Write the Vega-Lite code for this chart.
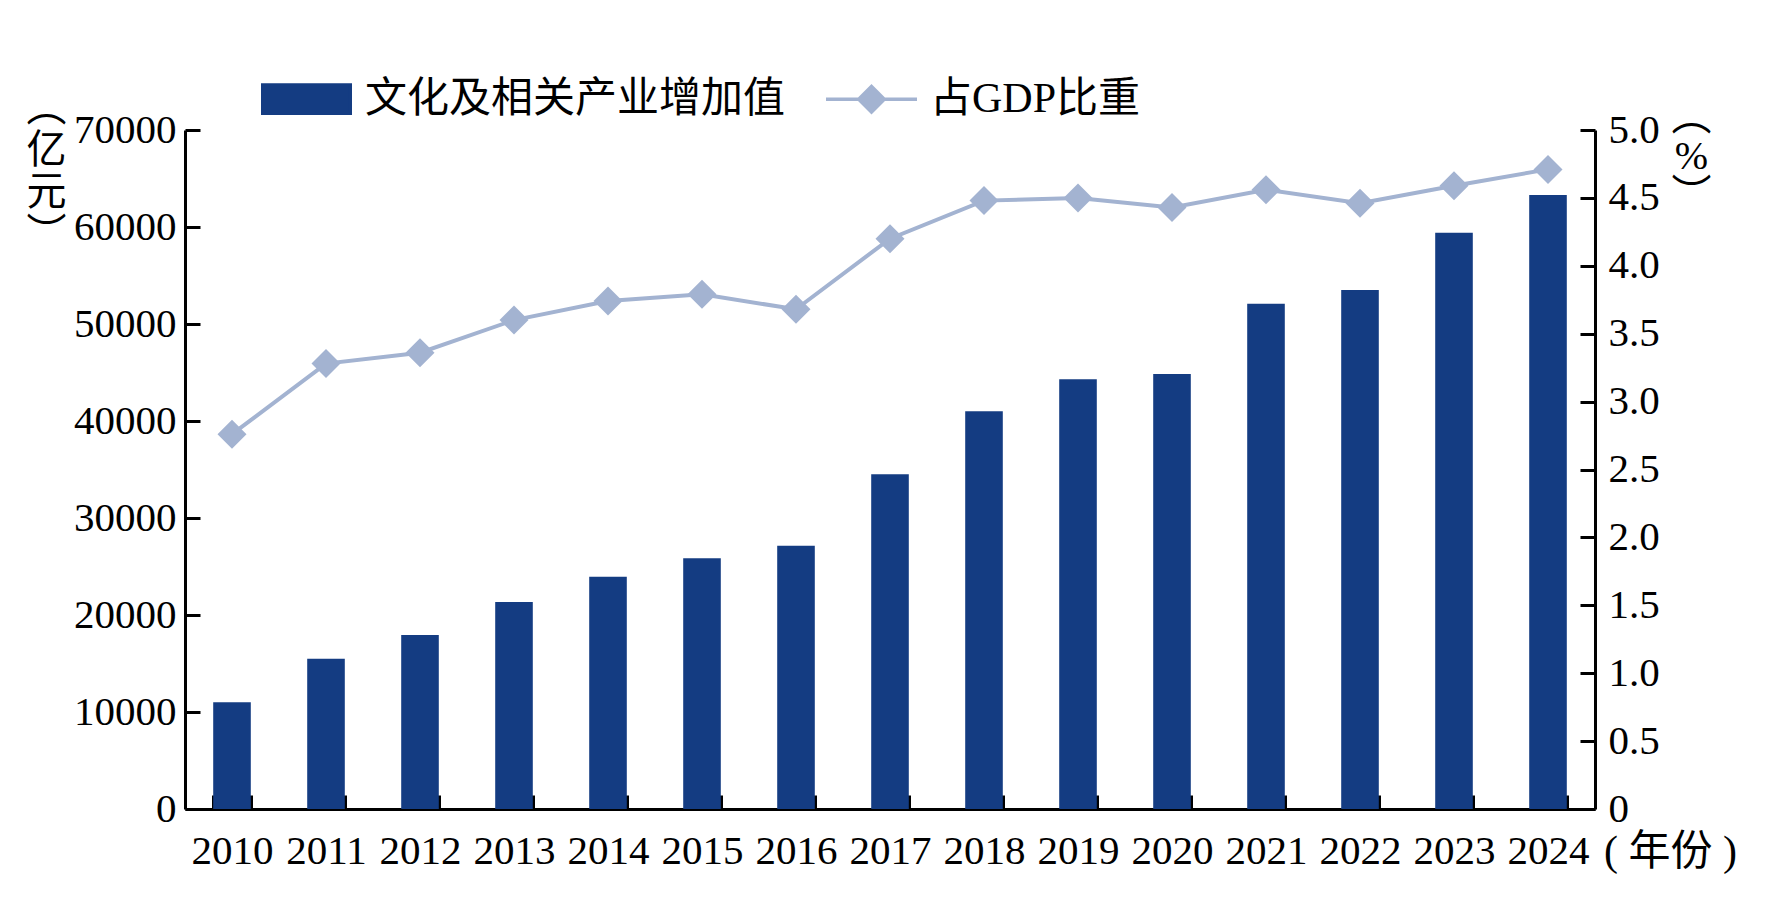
{
  "$schema": "https://vega.github.io/schema/vega-lite/v6.json",
  "width": 1410,
  "height": 679,
  "autosize": "none",
  "padding": {"left": 185, "top": 130, "right": 189, "bottom": 111},
  "background": "white",
  "config": {
    "view": {"stroke": null},
    "axis": {
      "grid": false,
      "domainColor": "black",
      "domainWidth": 3,
      "tickColor": "black",
      "tickWidth": 3,
      "labelFont": "Liberation Serif",
      "labelFontSize": 41,
      "labelColor": "black",
      "titleFont": "Liberation Serif, Noto Sans CJK SC",
      "titleFontWeight": "normal",
      "titleColor": "black"
    }
  },
  "data": {
    "values": [
      {"year": "2010", "value": 11000, "pct": 2.76},
      {"year": "2011", "value": 15480, "pct": 3.28},
      {"year": "2012", "value": 17940, "pct": 3.36},
      {"year": "2013", "value": 21351, "pct": 3.60},
      {"year": "2014", "value": 23940, "pct": 3.74},
      {"year": "2015", "value": 25850, "pct": 3.79},
      {"year": "2016", "value": 27150, "pct": 3.68},
      {"year": "2017", "value": 34500, "pct": 4.20},
      {"year": "2018", "value": 41000, "pct": 4.48},
      {"year": "2019", "value": 44300, "pct": 4.50},
      {"year": "2020", "value": 44850, "pct": 4.43},
      {"year": "2021", "value": 52100, "pct": 4.56},
      {"year": "2022", "value": 53500, "pct": 4.46},
      {"year": "2023", "value": 59400, "pct": 4.59},
      {"year": "2024", "value": 63300, "pct": 4.71}
    ]
  },
  "encoding": {
    "x": {
      "field": "year",
      "type": "ordinal",
      "scale": {"type": "band", "paddingInner": 0.6, "paddingOuter": 0.3},
      "axis": {
        "labelAngle": 0,
        "labelOverlap": false,
        "tickBand": "extent",
        "tickSize": -14,
        "labelPadding": 56,
        "labelBaseline": "middle",
        "title": "( 年份 )",
        "titleFontSize": 42,
        "titleAngle": 0,
        "titleAlign": "center",
        "titleBaseline": "middle",
        "titleX": 1485,
        "titleY": 42
      }
    }
  },
  "layer": [
    {
      "mark": {"type": "bar"},
      "encoding": {
        "y": {
          "field": "value",
          "type": "quantitative",
          "scale": {"domain": [0, 70000], "nice": false},
          "axis": {
            "orient": "left",
            "values": [0, 10000, 20000, 30000, 40000, 50000, 60000, 70000],
            "format": "d",
            "tickSize": -15,
            "labelPadding": 24,
            "title": ["︵", "亿", "元", "︶"],
            "titleFont": "Noto Sans CJK SC",
            "titleFontSize": 40,
            "titleLineHeight": 42,
            "titleAngle": 0,
            "titleAlign": "center",
            "titleBaseline": "top",
            "titleX": -139,
            "titleY": -42
          }
        },
        "color": {
          "datum": "文化及相关产业增加值",
          "scale": {
            "domain": ["文化及相关产业增加值", "占GDP比重"],
            "range": ["#143C82", "#A3B3D1"]
          },
          "legend": {
            "title": null,
            "orient": "none",
            "direction": "horizontal",
            "columns": 2,
            "legendX": 74,
            "legendY": -78.5,
            "padding": 0,
            "offset": 0,
            "symbolSize": 8281,
            "symbolStrokeWidth": 3.5,
            "labelFont": "Liberation Serif, Noto Sans CJK SC",
            "labelFontSize": 42,
            "labelColor": "black",
            "labelOffset": 11,
            "labelLimit": 0,
            "columnPadding": 33,
            "encode": {
              "symbols": {
                "update": {
                  "shape": {"signal": "datum.value === '占GDP比重' ? 'M-1,0H1M0,-0.28L0.28,0L0,0.28L-0.28,0Z' : 'M-0.9615,-0.313H0.9615V0.313H-0.9615Z'"},
                  "fill": {"signal": "datum.value === '占GDP比重' ? '#A3B3D1' : '#143C82'"},
                  "stroke": {"signal": "datum.value === '占GDP比重' ? '#A3B3D1' : '#143C82'"},
                  "size": {"value": 8281},
                  "opacity": {"value": 1},
                  "fillOpacity": {"value": 1},
                  "strokeOpacity": {"value": 1}
                }
              }
            }
          }
        }
      }
    },
    {
      "mark": {
        "type": "line",
        "strokeWidth": 4,
        "point": {"shape": "M0,-1L1,0L0,1L-1,0Z", "size": 841, "filled": true, "opacity": 1}
      },
      "encoding": {
        "y": {
          "field": "pct",
          "type": "quantitative",
          "scale": {"domain": [0, 5], "nice": false},
          "axis": {
            "orient": "right",
            "values": [0, 0.5, 1, 1.5, 2, 2.5, 3, 3.5, 4, 4.5, 5],
            "labelExpr": "datum.value == 0 ? '0' : format(datum.value, '.1f')",
            "tickSize": -15,
            "labelPadding": 28,
            "title": ["︵", "%", "︶"],
            "titleFont": "Liberation Serif, Noto Sans CJK SC",
            "titleFontSize": 40,
            "titleLineHeight": 39,
            "titleAngle": 0,
            "titleAlign": "center",
            "titleBaseline": "top",
            "titleX": 96,
            "titleY": -33
          }
        },
        "color": {"datum": "占GDP比重"}
      }
    }
  ],
  "resolve": {"scale": {"y": "independent"}}
}
